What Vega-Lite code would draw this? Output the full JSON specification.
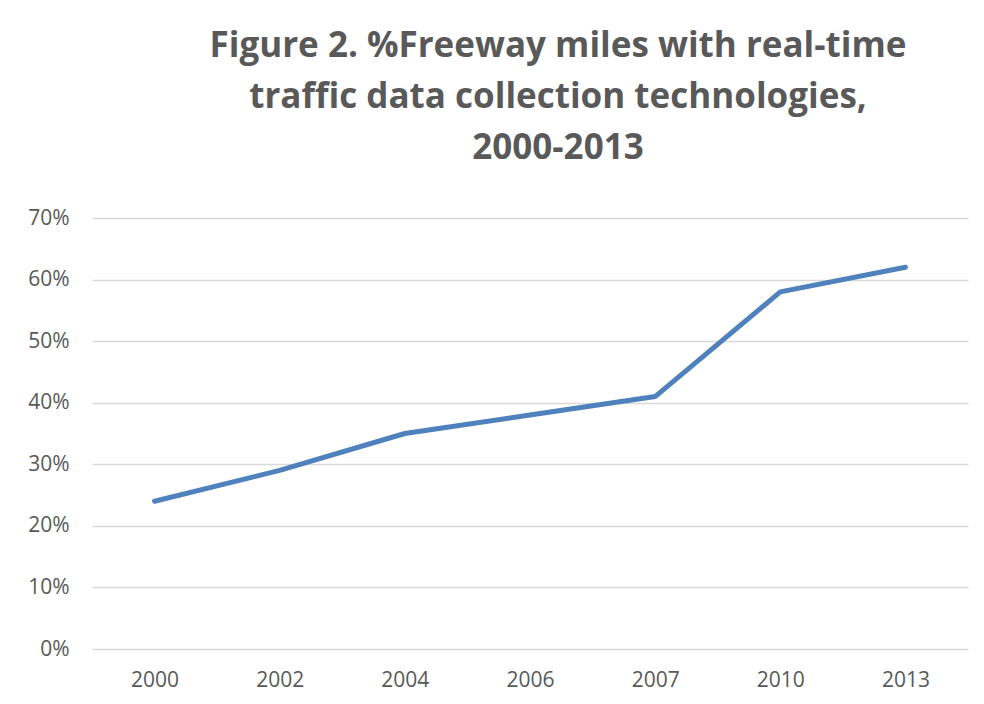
{
  "$schema": "https://vega.github.io/schema/vega-lite/v6.json",
  "autosize": "none",
  "width": 876,
  "height": 431,
  "padding": {"left": 92, "top": 218, "right": 16, "bottom": 55},
  "background": "white",
  "config": {"view": {"stroke": null}},
  "title": {
    "text": ["Figure 2. %Freeway miles with real-time", "traffic data collection technologies,", "2000-2013"],
    "font": "Open Sans",
    "fontSize": 35,
    "fontWeight": "bold",
    "color": "#595959",
    "lineHeight": 51,
    "anchor": "middle",
    "dx": 28,
    "offset": 41
  },
  "data": {
    "values": [
      {"year": "2000", "pct": 0.24},
      {"year": "2002", "pct": 0.29},
      {"year": "2004", "pct": 0.35},
      {"year": "2006", "pct": 0.38},
      {"year": "2007", "pct": 0.41},
      {"year": "2010", "pct": 0.58},
      {"year": "2013", "pct": 0.62}
    ]
  },
  "mark": {"type": "line", "color": "#4F81BD", "strokeWidth": 5, "strokeCap": "round", "strokeJoin": "round"},
  "encoding": {
    "x": {
      "field": "year",
      "type": "ordinal",
      "scale": {"type": "point", "padding": 0.5},
      "axis": {
        "title": null,
        "labelAngle": 0,
        "labelFont": "Open Sans",
        "labelFontSize": 21,
        "labelColor": "#595959",
        "labelPadding": 20,
        "ticks": false,
        "domain": false,
        "grid": false
      }
    },
    "y": {
      "field": "pct",
      "type": "quantitative",
      "scale": {"domain": [0, 0.7]},
      "axis": {
        "title": null,
        "format": ".0%",
        "values": [0, 0.1, 0.2, 0.3, 0.4, 0.5, 0.6, 0.7],
        "labelFont": "Open Sans",
        "labelFontSize": 21,
        "labelColor": "#595959",
        "labelPadding": 23,
        "ticks": false,
        "domain": false,
        "grid": true,
        "gridColor": "#D9D9D9",
        "gridWidth": 1.5
      }
    }
  }
}
